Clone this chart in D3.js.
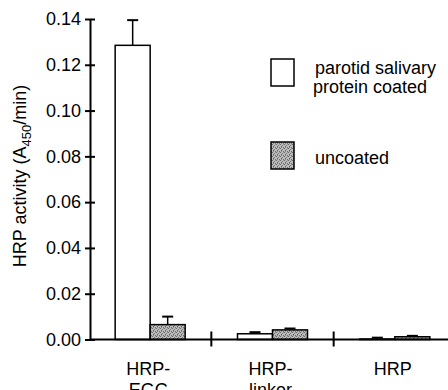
<!DOCTYPE html>
<html>
<head>
<meta charset="utf-8">
<script src="https://cdn.jsdelivr.net/npm/d3@7"></script>
<style>
body{margin:0;background:#fff}
text{font-family:"Liberation Sans",Arial,Helvetica,sans-serif;fill:#000}
</style>
</head>
<body>
<script>
const categories=['HRP-EGC','HRP-linker','HRP']
const catLines=[['HRP-','EGC'],['HRP-','linker'],['HRP']]
const series=['coated','uncoated']
const coated=[0.1285, 0.0025, 0.0002]
const coatedErr=[0.0110, 0.0007, 0.0006]
const uncoated=[0.0065, 0.0042, 0.0012]
const uncoatedErr=[0.0035, 0.0006, 0.0004]
const yTicks=[0, 0.02, 0.04, 0.06, 0.08, 0.10, 0.12, 0.14]
const legendLabels=[['parotid salivary','protein coated'],['uncoated']]

const width=448
const height=390
const svg=d3.select('body').append('svg').attr('width',width).attr('height',height)

// stippled grey fill
const defs=svg.append('defs')
const pat=defs.append('pattern').attr('id','stip').attr('width',4).attr('height',4).attr('patternUnits','userSpaceOnUse')
pat.append('rect').attr('width',4).attr('height',4).attr('fill','#bdbdbd')
const dots=[[0,0,'#666'],[2,1,'#777'],[1,2,'#5a5a5a'],[3,3,'#707070'],[3,0,'#999'],[1,3,'#8a8a8a']]
pat.selectAll('rect.d').data(dots).enter().append('rect').attr('class','d')
  .attr('x',d=>d[0]).attr('y',d=>d[1]).attr('width',1).attr('height',1).attr('fill',d=>d[2])

const x=d3.scaleBand().domain(categories).range([89,456])
const xs=d3.scaleBand().domain(series).range([0,70])
const y=d3.scaleLinear().domain([0,0.14]).range([339.5,19])
const fills={coated:'#fff',uncoated:'url(#stip)'}

const data=[]
categories.forEach((c,i)=>{
  data.push({cat:c,s:'coated',v:coated[i],e:coatedErr[i]})
  data.push({cat:c,s:'uncoated',v:uncoated[i],e:uncoatedErr[i]})
})
const bx=d=>x(d.cat)+x.bandwidth()/2-35+xs(d.s)

// error bars (behind the bars)
svg.selectAll('line.err').data(data).enter().append('line').attr('class','err')
  .attr('x1',d=>bx(d)+xs.bandwidth()/2).attr('x2',d=>bx(d)+xs.bandwidth()/2)
  .attr('y1',d=>y(d.v)).attr('y2',d=>y(d.v+d.e))
  .attr('stroke','#000').attr('stroke-width',1.5)
svg.selectAll('line.cap').data(data).enter().append('line').attr('class','cap')
  .attr('x1',d=>bx(d)+xs.bandwidth()/2-5.5).attr('x2',d=>bx(d)+xs.bandwidth()/2+5.5)
  .attr('y1',d=>y(d.v+d.e)).attr('y2',d=>y(d.v+d.e))
  .attr('stroke','#000').attr('stroke-width',2)

svg.selectAll('rect.bar').data(data).enter().append('rect').attr('class','bar')
  .attr('x',d=>bx(d))
  .attr('y',d=>y(d.v))
  .attr('width',xs.bandwidth())
  .attr('height',d=>y(0)-y(d.v))
  .attr('fill',d=>fills[d.s])
  .attr('stroke','#000').attr('stroke-width',1.5)

// y axis
const yAxis=d3.axisLeft(y).tickValues(yTicks).tickFormat(d3.format('.2f')).tickSizeInner(5).tickSizeOuter(0).tickPadding(4)
const gy=svg.append('g').attr('transform','translate(90,0)').call(yAxis)
gy.select('.domain').attr('stroke-width',2)
gy.selectAll('.tick line').attr('x1',5).attr('x2',-5).attr('stroke-width',2)
gy.selectAll('.tick text').attr('x',-9).style('font-size','18px').style('font-family','"Liberation Sans",Arial,sans-serif')

// x axis
svg.append('line').attr('x1',90).attr('x2',width).attr('y1',y(0)).attr('y2',y(0)).attr('stroke','#000').attr('stroke-width',2)
svg.selectAll('line.sep').data(categories.slice(1)).enter().append('line').attr('class','sep')
  .attr('x1',d=>x(d)).attr('x2',d=>x(d))
  .attr('y1',y(0)-8).attr('y2',y(0)+7)
  .attr('stroke','#000').attr('stroke-width',2)

const lab=svg.selectAll('text.cat').data(categories).enter().append('text').attr('class','cat')
  .attr('x',d=>x(d)+x.bandwidth()/2-2)
  .attr('y',375)
  .attr('text-anchor','middle')
  .style('font-size','18px')
lab.selectAll('tspan').data((d,i)=>catLines[i]).enter().append('tspan')
  .attr('x',function(){return this.parentNode.getAttribute('x')})
  .attr('dy',(d,i)=>i?21:0)
  .text(d=>d)

svg.append('text')
  .attr('transform','translate(26,176) rotate(-90)')
  .attr('text-anchor','middle')
  .style('font-size','18px')
  .call(t=>{
    t.append('tspan').text('HRP activity (A')
    t.append('tspan').attr('dy',5).style('font-size','13px').text('450')
    t.append('tspan').attr('dy',-5).text('/min)')
  })

// legend
const legY=[59,142]
svg.selectAll('rect.leg').data(series).enter().append('rect').attr('class','leg')
  .attr('x',271).attr('y',(d,i)=>legY[i]).attr('width',23).attr('height',27)
  .attr('fill',d=>fills[d]).attr('stroke','#000').attr('stroke-width',1.5)
const lt=svg.selectAll('text.leg').data(series).enter().append('text').attr('class','leg')
  .attr('x',(d,i)=>i?312:314)
  .attr('y',(d,i)=>i?164:74)
  .style('font-size','18px')
lt.selectAll('tspan').data((d,i)=>legendLabels[i]).enter().append('tspan')
  .attr('x',(d,i)=>i?313:315).attr('dy',(d,i)=>i?19:0)
  .text(d=>d)
</script>
</body>
</html>
